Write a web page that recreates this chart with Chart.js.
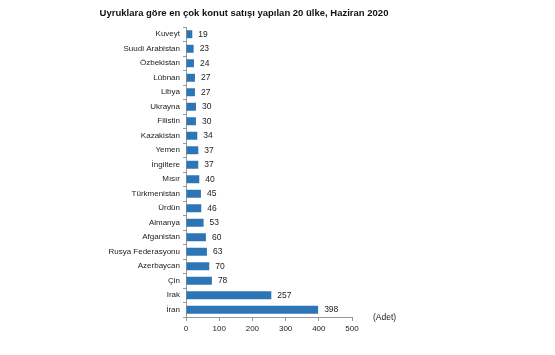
<!DOCTYPE html>
<html>
<head>
<meta charset="utf-8">
<script src="https://cdn.jsdelivr.net/npm/chart.js@4/dist/chart.umd.min.js"></script>
<style>
  body { margin: 0; background: #fff; }
  canvas { display: block; }
</style>
</head>
<body>
<canvas id="grafik" width="555" height="355"></canvas>
<script>
// Veriler: ülkeler ve satış adetleri
const ulkeler = ['Kuveyt', 'Suudi Arabistan', 'Özbekistan', 'Lübnan', 'Libya', 'Ukrayna', 'Filistin',
    'Kazakistan', 'Yemen', 'İngiltere', 'Mısır', 'Türkmenistan', 'Ürdün', 'Almanya', 'Afganistan',
    'Rusya Federasyonu', 'Azerbaycan', 'Çin', 'Irak', 'İran'];
const satislar = [19, 23, 24, 27, 27, 30, 30, 34, 37, 37, 40, 45, 46, 53, 60, 63, 70, 78, 257, 398];
const xTikleri = [0, 100, 200, 300, 400, 500];
const baslik = 'Uyruklara göre en çok konut satışı yapılan 20 ülke, Haziran 2020';
const birim = '(Adet)';

const yazi = 'Liberation Sans, Arial, sans-serif';

// Başlık, değer etiketleri ve birim yazısı
const ekYazilar = {
    id: 'ekYazilar',
    afterDatasetsDraw(chart) {
        const ctx = chart.ctx;
        const meta = chart.getDatasetMeta(0);
        ctx.save();
        ctx.font = '8.5px ' + yazi;
        ctx.fillStyle = '#222';
        ctx.textAlign = 'left';
        ctx.textBaseline = 'middle';
        meta.data.forEach(function (bar, i) {
            ctx.fillText(String(satislar[i]), bar.x + 6, bar.y);
        });
        const x = chart.scales.x;
        ctx.fillText(birim, x.right + 21, x.top + 1);

        // başlık
        ctx.font = 'bold 9.5px ' + yazi;
        ctx.fillStyle = '#111';
        ctx.textAlign = 'center';
        ctx.fillText(baslik, 244, 13);
        ctx.restore();
    }
};

new Chart(document.getElementById('grafik'), {
    type: 'bar',
    data: {
        labels: ulkeler,
        datasets: [{
            data: satislar,
            backgroundColor: '#2e75b6',
            barPercentage: 0.55,
            categoryPercentage: 1
        }]
    },
    options: {
        indexAxis: 'y',
        responsive: false,
        animation: false,
        layout: { padding: { left: 0, right: 203, top: 27, bottom: 0 } },
        plugins: {
            legend: { display: false },
            tooltip: { enabled: false }
        },
        scales: {
            x: {
                min: 0,
                max: 500,
                afterFit: function (s) { s.height = 38; },
                afterBuildTicks: function (s) { s.ticks = xTikleri.map(v => ({ value: v })); },
                grid: { drawOnChartArea: false, drawTicks: true, tickLength: 4, color: '#999' },
                border: { display: true, color: '#999' },
                ticks: { color: '#222', padding: 3, font: { family: yazi, size: 8 } }
            },
            y: {
                afterFit: function (s) { s.width = 186; },
                grid: { drawOnChartArea: false, drawTicks: true, tickLength: 3, offset: true, color: '#999' },
                border: { display: true, color: '#999' },
                ticks: { color: '#222', padding: 3, autoSkip: false, font: { family: yazi, size: 8 } }
            }
        }
    },
    plugins: [ekYazilar]
});
</script>
</body>
</html>
